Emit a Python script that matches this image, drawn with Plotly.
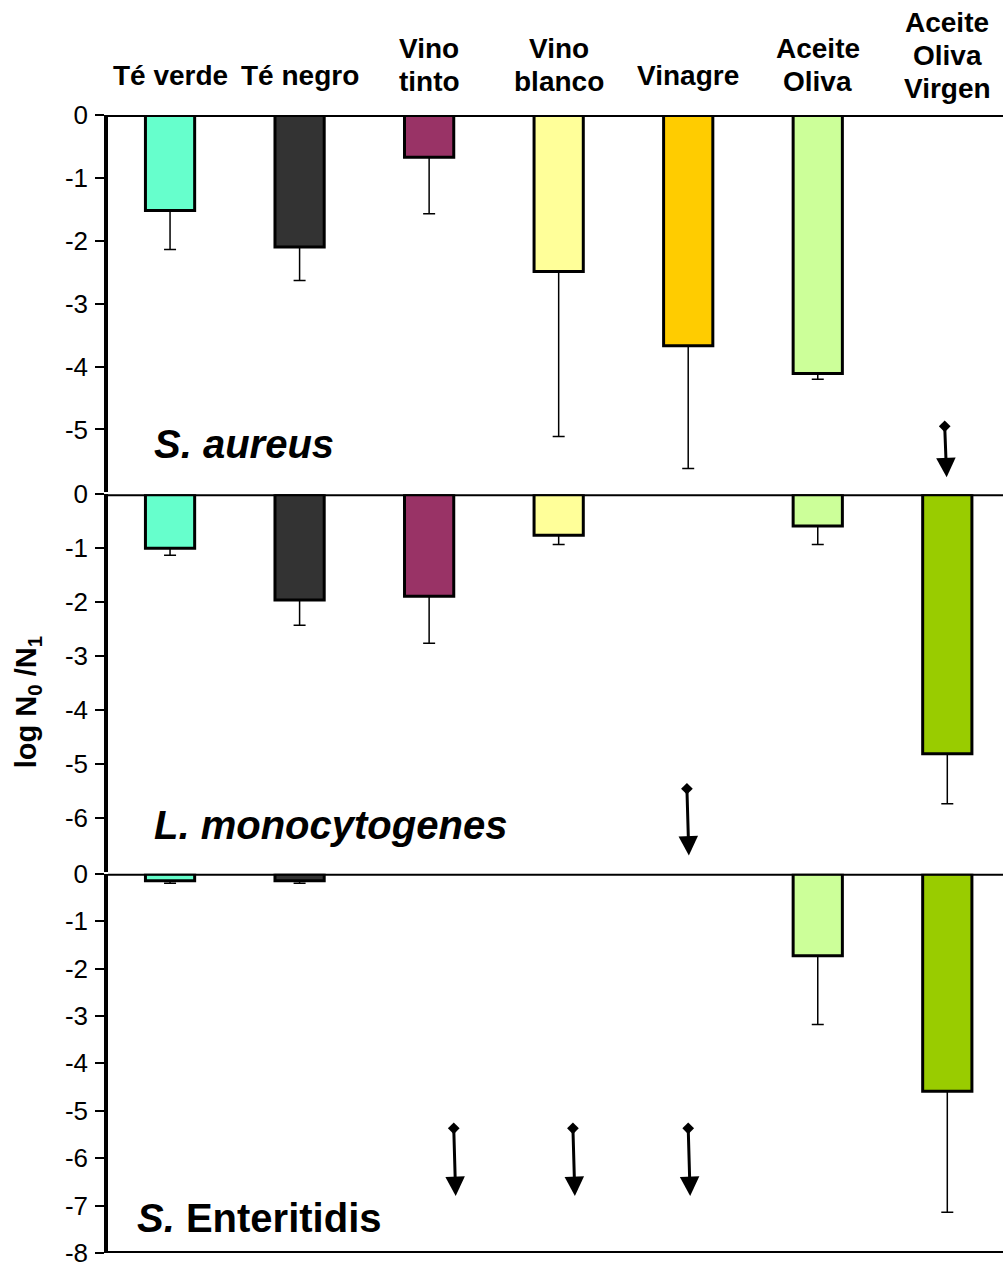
import plotly.graph_objects as go

categories = ["Té verde", "Té negro", "Vino<br>tinto", "Vino<br>blanco", "Vinagre",
              "Aceite<br>Oliva", "Aceite<br>Oliva<br>Virgen"]
colors = ["#66FFCC", "#333333", "#993366", "#FFFF99", "#FFCC00", "#CCFF99", "#99CC00"]

# mean log reduction (negative) and downward error (SD)
aureus_vals = [-1.52, -2.10, -0.67, -2.49, -3.67, -4.11, None]
aureus_err = [0.62, 0.53, 0.90, 2.62, 1.95, 0.09, None]
listeria_vals = [-1.00, -1.96, -1.89, -0.76, None, -0.59, -4.81]
listeria_err = [0.13, 0.47, 0.87, 0.17, None, 0.34, 0.93]
enteritidis_vals = [-0.15, -0.15, None, None, None, -1.73, -4.59]
enteritidis_err = [0.05, 0.05, None, None, None, 1.45, 2.55]

# arrows (below detection limit): category index, x shift, top, bottom
aureus_arrows = [(6, -0.02, -4.95, -5.76)]
listeria_arrows = [(4, -0.01, -5.46, -6.70)]
enteritidis_arrows = [(2, 0.19, -5.37, -6.80), (3, 0.11, -5.37, -6.80), (4, 0.0, -5.37, -6.80)]

panels = [
    ("y", aureus_vals, aureus_err, aureus_arrows, -6, list(range(0, -6, -1)), "<i>S. aureus</i>"),
    ("y2", listeria_vals, listeria_err, listeria_arrows, -7, list(range(0, -7, -1)), "<i>L. monocytogenes</i>"),
    ("y3", enteritidis_vals, enteritidis_err, enteritidis_arrows, -8, list(range(0, -9, -1)), "<i>S.</i> Enteritidis"),
]
species_pos = [(0.049, 0.7105), (0.049, 0.3763), (0.03, 0.0307)]
domains = [[0.6684, 1.0], [0.335, 0.6667], [0.0, 0.3333]]

FONT = "Liberation Sans, Arial, sans-serif"
fig = go.Figure()
annotations = []
shapes = []
xidx = list(range(len(categories)))

for k, (yref, vals, errs, arrows, ymin, ticks, name) in enumerate(panels):
    fig.add_trace(go.Bar(
        x=xidx, y=vals, yaxis=yref, width=0.38,
        marker=dict(color=colors, line=dict(color="black", width=3)),
        error_y=dict(type="data", symmetric=False,
                     array=[0 if e is not None else None for e in errs],
                     arrayminus=errs, color="black", thickness=1.5, width=6),
        showlegend=False, hoverinfo="skip",
    ))
    for (ci, dx, top, bot) in arrows:
        annotations.append(dict(
            x=ci + dx + 0.015, y=bot, ax=ci + dx, ay=top,
            xref="x", yref=yref, axref="x", ayref=yref,
            showarrow=True, arrowhead=2, arrowsize=1.3, arrowwidth=3,
            arrowcolor="black", text="", standoff=0,
        ))
    fig.add_trace(go.Scatter(
        x=[a[0] + a[1] for a in arrows], y=[a[2] for a in arrows], yaxis=yref,
        mode="markers", marker=dict(symbol="diamond", size=9, color="black"),
        showlegend=False, hoverinfo="skip",
    ))
    axname = "yaxis" if yref == "y" else "yaxis" + yref[1:]
    fig.update_layout(**{axname: dict(
        domain=domains[k], range=[ymin, 0], tickvals=ticks,
        ticktext=[str(t) for t in ticks], showgrid=False, zeroline=False,
        showline=True, linewidth=3.5, linecolor="black", anchor="x",
        ticks="outside", ticklen=9, tickwidth=2, tickcolor="black",
        ticklabelstandoff=2, ticklabeloverflow="allow",
        tickfont=dict(size=26, color="black", family=FONT),
    )})
    shapes.append(dict(type="line", xref="paper", x0=0, x1=1, yref=yref, y0=0, y1=0,
                       line=dict(color="black", width=4), layer="above"))
    annotations.append(dict(
        x=species_pos[k][0], y=species_pos[k][1], xref="paper", yref="paper",
        text="<b>" + name + "</b>", showarrow=False, xanchor="left", yanchor="middle",
        font=dict(size=40, color="black", family=FONT),
    ))

shapes.append(dict(type="line", xref="paper", x0=0, x1=1, yref="y3", y0=-8, y1=-8,
                   line=dict(color="black", width=4), layer="above"))

# category labels above the chart, one annotation per line
for i, c in enumerate(categories):
    lines = c.split("<br>")
    n = len(lines)
    block_center = 85 - 10 * n
    for j, ln in enumerate(lines):
        ypx = block_center + (j - (n - 1) / 2) * 33
        annotations.append(dict(
            x=i, y=(1255 - ypx) / 1140, xref="x", yref="paper",
            text="<b>" + ln + "</b>", showarrow=False, xanchor="center", yanchor="middle",
            font=dict(size=28, color="black", family=FONT),
        ))

annotations.append(dict(
    x=-0.0894, y=0.484, xref="paper", yref="paper", textangle=-90,
    text="<b>log N<sub>0</sub> /N<sub>1</sub></b>", showarrow=False,
    xanchor="center", yanchor="middle", font=dict(size=29, color="black", family=FONT),
))

fig.update_layout(
    width=1003, height=1268,
    margin=dict(l=108, r=0, t=115, b=13),
    paper_bgcolor="white", plot_bgcolor="white",
    xaxis=dict(range=[-0.479, 6.43], showticklabels=False, showgrid=False,
               zeroline=False, showline=False, ticks=""),
    annotations=annotations, shapes=shapes,
    barmode="overlay",
)

fig.write_html("out.html")
